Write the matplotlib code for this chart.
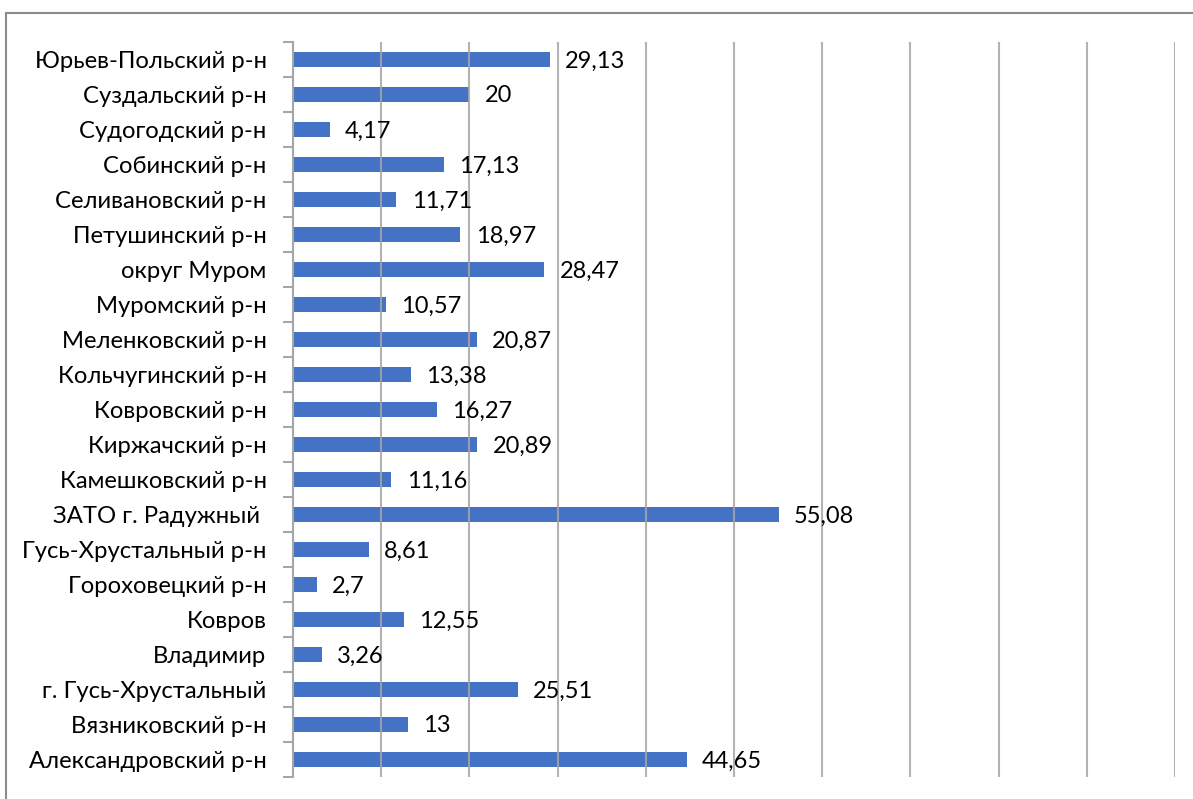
import matplotlib.pyplot as plt
from matplotlib.lines import Line2D

# categories listed bottom to top, as on the chart
districts = [
    "Александровский р-н", "Вязниковский р-н", "г. Гусь-Хрустальный", "Владимир",
    "Ковров", "Гороховецкий р-н", "Гусь-Хрустальный р-н", "ЗАТО г. Радужный ",
    "Камешковский р-н", "Киржачский р-н", "Ковровский р-н", "Кольчугинский р-н",
    "Меленковский р-н", "Муромский р-н", "округ Муром", "Петушинский р-н",
    "Селивановский р-н", "Собинский р-н", "Судогодский р-н", "Суздальский р-н",
    "Юрьев-Польский р-н",
]
values = [44.65, 13, 25.51, 3.26, 12.55, 2.7, 8.61, 55.08, 11.16, 20.89, 16.27,
          13.38, 20.87, 10.57, 28.47, 18.97, 11.71, 17.13, 4.17, 20, 29.13]

plt.rcParams['font.family'] = ['Lato', 'DejaVu Sans']

fig = plt.figure(figsize=(11.93, 7.99), dpi=100)
ax = fig.add_axes([293/1193, 1 - 777/799, (1175 - 293)/1193, (777 - 42)/799])

pos = range(len(districts))
ax.barh(pos, values, height=0.43, color="#4472c4", zorder=2)
for y, v in zip(pos, values):
    lbl = f"{v:g}".replace(".", ",")
    ax.annotate(lbl, (v, y), xytext=(11, -1), textcoords="offset points",
                va="center", ha="left", fontsize=17, color="black", zorder=5)

ax.set_xlim(0, 100)
ax.set_ylim(-0.5, len(districts) - 0.5)
ax.set_xticks(range(0, 101, 10))
ax.set_xticklabels([])
ax.tick_params(axis="x", length=0)
ax.set_axisbelow(False)
ax.grid(axis="x", color="#a6a6a6", linewidth=1.5, alpha=0.85)

ax.set_yticks(list(pos))
ax.set_yticklabels(districts, fontsize=17.2)
ax.set_yticks([i - 0.5 for i in range(len(districts) + 1)], minor=True)
ax.tick_params(axis="y", which="major", length=0, pad=19)
ax.tick_params(axis="y", which="minor", length=7, color="#a6a6a6", width=1.5)

for s in ["top", "right", "bottom"]:
    ax.spines[s].set_visible(False)
ax.spines["left"].set_color("#a6a6a6")
ax.spines["left"].set_linewidth(1.5)

# outer chart frame (top and left edges visible)
fig.add_artist(Line2D([6/1193, 1], [1 - 13/799, 1 - 13/799], color="#8c8c8c", lw=1.5))
fig.add_artist(Line2D([6/1193, 6/1193], [0, 1 - 13/799], color="#8c8c8c", lw=1.5))

fig.savefig("out.png", dpi=100)
